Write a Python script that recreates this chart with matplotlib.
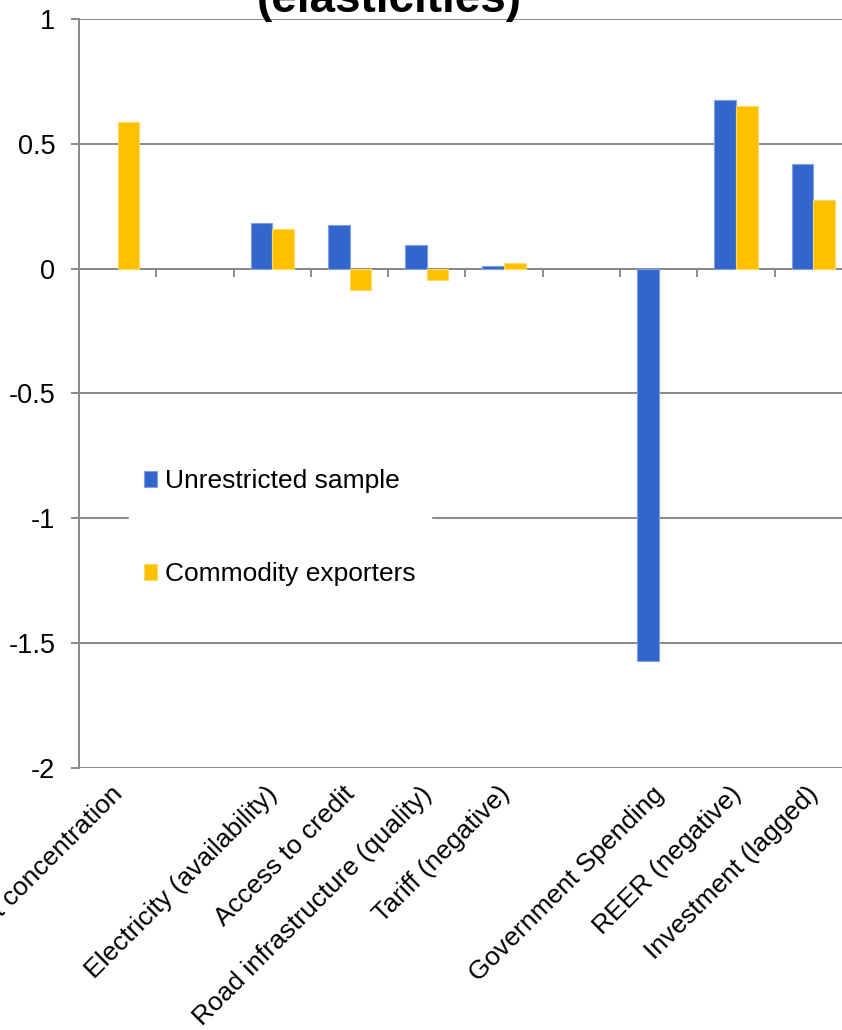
import numpy as np
import matplotlib.pyplot as plt

plt.rcParams['font.family'] = ['Liberation Sans', 'DejaVu Sans']

categories = ["Export concentration", "", "Electricity (availability)",
              "Access to credit", "Road infrastructure (quality)",
              "Tariff (negative)", "", "Government Spending",
              "REER (negative)", "Investment (lagged)"]
unrestricted = [np.nan, np.nan, 0.183, 0.175, 0.095, 0.012, np.nan, -1.572, 0.675, 0.42]
commodity = [0.59, np.nan, 0.16, -0.087, -0.045, 0.023, np.nan, np.nan, 0.653, 0.277]
yticks = [1, 0.5, 0, -0.5, -1, -1.5, -2]
ytick_labels = ["1", "0.5", "0", "-0.5", "-1", "-1.5", "-2"]

blue = '#3366CC'
gold = '#FFC000'
grey = '#898989'

fig = plt.figure(figsize=(8.42, 10.30), dpi=100)
ax = fig.add_axes([0.0938, 0.2547, 0.918, 0.7266])

x = np.arange(len(categories))
w = 0.28
ax.bar(x - w/2, unrestricted, w, color=blue, edgecolor='#7f9fe0', linewidth=0.8,
       label='Unrestricted sample', zorder=3)
ax.bar(x + w/2, commodity, w, color=gold, edgecolor='#ffd966', linewidth=0.8,
       label='Commodity exporters', zorder=3)

ax.set_xlim(-0.5, len(categories) - 0.5)
ax.set_ylim(-2, 1)
ax.set_yticks(yticks, ytick_labels)
ax.yaxis.grid(True, color=grey, linewidth=1.4)
ax.set_axisbelow(True)

for s in ['top', 'right']:
    ax.spines[s].set_visible(False)
ax.spines['left'].set_color(grey)
ax.spines['left'].set_linewidth(1.4)
ax.spines['bottom'].set_position(('data', 0))
ax.spines['bottom'].set_color(grey)
ax.spines['bottom'].set_linewidth(1.4)

# tick marks between categories on the zero line
ax.set_xticks(x[:-1] + 0.5, [''] * (len(categories) - 1))
ax.tick_params(axis='x', direction='out', length=6, width=1.4, color=grey)
ax.tick_params(axis='y', direction='out', length=6, width=1.4, color=grey,
               labelsize=19.5, pad=11)

# category names sit below the plot
sec = ax.secondary_xaxis(0)
sec.set_xticks(x, categories, rotation=45, ha='right', va='center_baseline',
               rotation_mode='anchor', fontsize=19)
sec.tick_params(length=0, pad=15)
sec.spines['bottom'].set_visible(False)

leg = ax.legend(loc='upper left', bbox_to_anchor=(0.1532, 0.5583),
                bbox_transform=fig.transFigure, borderaxespad=0, fontsize=19,
                handlelength=0.53, handleheight=0.53, handletextpad=0.3,
                labelspacing=2.6, borderpad=0.55, fancybox=False,
                framealpha=1, edgecolor='white')
leg.set_zorder(5)

fig.text(0.462, 0.9883, "(elasticities)", ha='center', va='baseline',
         fontsize=33, fontweight='bold')

fig.savefig('out.png', dpi=100)
